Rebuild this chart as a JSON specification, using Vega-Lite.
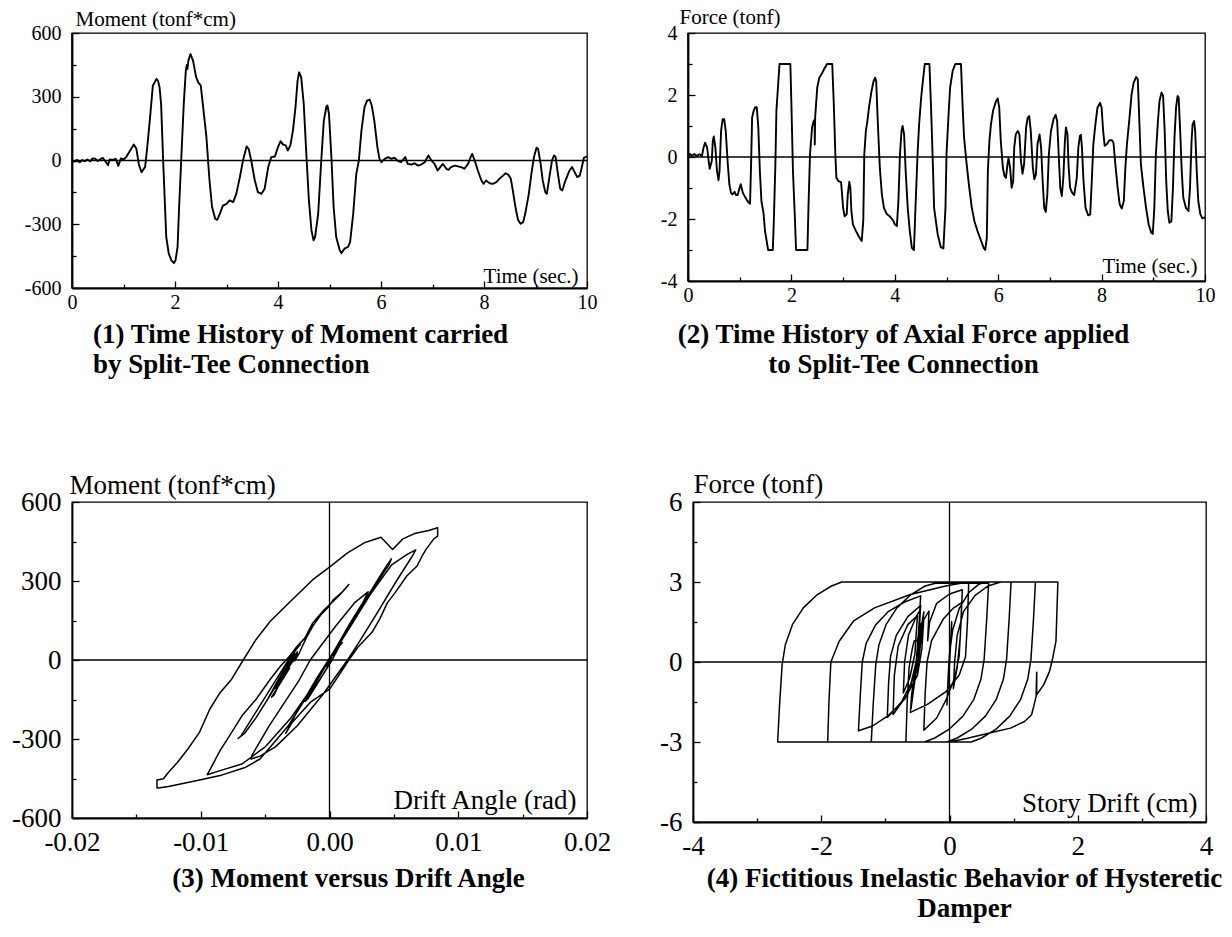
{
"$schema": "https://vega.github.io/schema/vega-lite/v6.json",
"autosize": {"type": "none"},
"padding": {"left": 72, "top": 33, "right": 1160, "bottom": 904},
"background": "white",
"config": {
  "font": "Liberation Serif",
  "view": {"stroke": "black", "strokeWidth": 1.3},
  "axis": {"grid": false, "domainColor": "black", "tickColor": "black", "labelColor": "black", "titleColor": "black", "labelFont": "Liberation Serif", "titleFont": "Liberation Serif", "titleFontWeight": "normal", "labelFlush": false, "labelOverlap": false, "domainWidth": 1.8, "tickWidth": 1.3, "labelAngle": 0},
  "title": {"font": "Liberation Serif", "fontWeight": "bold", "color": "black", "fontSize": 27},
  "locale": {"number": {"decimal": ".", "thousands": ",", "grouping": [3], "currency": ["$", ""], "minus": "-"}}
},
"datasets": {
"p1": [{"t":0,"m":0},{"t":0.05,"m":-5},{"t":0.1,"m":3},{"t":0.15,"m":-8},{"t":0.2,"m":2},{"t":0.25,"m":-3},{"t":0.3,"m":5},{"t":0.35,"m":-4},{"t":0.4,"m":10},{"t":0.45,"m":8},{"t":0.5,"m":-2},{"t":0.55,"m":6},{"t":0.6,"m":12},{"t":0.65,"m":-5},{"t":0.7,"m":-22},{"t":0.73,"m":5},{"t":0.78,"m":3},{"t":0.85,"m":8},{"t":0.9,"m":-25},{"t":0.95,"m":10},{"t":1.0,"m":5},{"t":1.05,"m":15},{"t":1.1,"m":35},{"t":1.2,"m":75},{"t":1.25,"m":55},{"t":1.3,"m":-20},{"t":1.35,"m":-55},{"t":1.42,"m":-30},{"t":1.46,"m":60},{"t":1.51,"m":188},{"t":1.57,"m":352},{"t":1.64,"m":384},{"t":1.67,"m":376},{"t":1.7,"m":345},{"t":1.73,"m":266},{"t":1.77,"m":0},{"t":1.83,"m":-360},{"t":1.88,"m":-439},{"t":1.93,"m":-470},{"t":1.98,"m":-483},{"t":2.01,"m":-470},{"t":2.05,"m":-407},{"t":2.08,"m":-219},{"t":2.12,"m":0},{"t":2.17,"m":266},{"t":2.21,"m":423},{"t":2.23,"m":450},{"t":2.24,"m":430},{"t":2.26,"m":470},{"t":2.3,"m":501},{"t":2.35,"m":470},{"t":2.41,"m":392},{"t":2.45,"m":368},{"t":2.5,"m":353},{"t":2.54,"m":266},{"t":2.61,"m":110},{"t":2.67,"m":-94},{"t":2.72,"m":-219},{"t":2.78,"m":-274},{"t":2.82,"m":-279},{"t":2.87,"m":-251},{"t":2.93,"m":-212},{"t":3.0,"m":-204},{"t":3.06,"m":-188},{"t":3.13,"m":-196},{"t":3.19,"m":-157},{"t":3.26,"m":-78},{"t":3.32,"m":0},{"t":3.39,"m":66},{"t":3.43,"m":55},{"t":3.48,"m":0},{"t":3.55,"m":-94},{"t":3.61,"m":-149},{"t":3.68,"m":-157},{"t":3.74,"m":-133},{"t":3.81,"m":-31},{"t":3.87,"m":16},{"t":3.94,"m":19},{"t":4.0,"m":63},{"t":4.05,"m":91},{"t":4.1,"m":75},{"t":4.15,"m":71},{"t":4.19,"m":47},{"t":4.24,"m":71},{"t":4.29,"m":141},{"t":4.34,"m":251},{"t":4.38,"m":376},{"t":4.41,"m":415},{"t":4.45,"m":392},{"t":4.5,"m":266},{"t":4.55,"m":31},{"t":4.6,"m":-188},{"t":4.65,"m":-329},{"t":4.69,"m":-376},{"t":4.72,"m":-360},{"t":4.78,"m":-251},{"t":4.84,"m":0},{"t":4.89,"m":188},{"t":4.94,"m":254},{"t":4.96,"m":259},{"t":4.99,"m":219},{"t":5.04,"m":0},{"t":5.08,"m":-219},{"t":5.13,"m":-360},{"t":5.2,"m":-423},{"t":5.23,"m":-436},{"t":5.29,"m":-415},{"t":5.36,"m":-407},{"t":5.4,"m":-384},{"t":5.46,"m":-251},{"t":5.52,"m":-63},{"t":5.57,"m":0},{"t":5.62,"m":141},{"t":5.68,"m":251},{"t":5.73,"m":282},{"t":5.78,"m":287},{"t":5.82,"m":259},{"t":5.87,"m":188},{"t":5.93,"m":63},{"t":5.97,"m":8},{"t":6.01,"m":-8},{"t":6.07,"m":8},{"t":6.14,"m":16},{"t":6.2,"m":8},{"t":6.26,"m":13},{"t":6.33,"m":-3},{"t":6.39,"m":-8},{"t":6.47,"m":16},{"t":6.52,"m":-16},{"t":6.59,"m":-19},{"t":6.65,"m":-13},{"t":6.72,"m":-24},{"t":6.78,"m":-19},{"t":6.85,"m":-8},{"t":6.92,"m":24},{"t":6.97,"m":3},{"t":7.04,"m":-16},{"t":7.1,"m":-47},{"t":7.15,"m":-31},{"t":7.2,"m":-16},{"t":7.27,"m":-39},{"t":7.31,"m":-44},{"t":7.36,"m":-31},{"t":7.43,"m":-24},{"t":7.5,"m":-28},{"t":7.56,"m":-31},{"t":7.62,"m":-39},{"t":7.69,"m":-16},{"t":7.74,"m":16},{"t":7.77,"m":31},{"t":7.82,"m":0},{"t":7.88,"m":-47},{"t":7.95,"m":-94},{"t":7.99,"m":-110},{"t":8.04,"m":-94},{"t":8.11,"m":-107},{"t":8.17,"m":-110},{"t":8.24,"m":-102},{"t":8.3,"m":-86},{"t":8.37,"m":-71},{"t":8.42,"m":-60},{"t":8.47,"m":-66},{"t":8.52,"m":-86},{"t":8.56,"m":-141},{"t":8.61,"m":-219},{"t":8.66,"m":-279},{"t":8.71,"m":-298},{"t":8.76,"m":-290},{"t":8.8,"m":-251},{"t":8.87,"m":-157},{"t":8.92,"m":-63},{"t":8.97,"m":16},{"t":9.02,"m":60},{"t":9.05,"m":55},{"t":9.1,"m":-16},{"t":9.14,"m":-94},{"t":9.19,"m":-149},{"t":9.22,"m":-157},{"t":9.27,"m":-78},{"t":9.32,"m":0},{"t":9.36,"m":24},{"t":9.39,"m":16},{"t":9.44,"m":-71},{"t":9.48,"m":-133},{"t":9.52,"m":-141},{"t":9.57,"m":-102},{"t":9.62,"m":-71},{"t":9.66,"m":-47},{"t":9.71,"m":-31},{"t":9.76,"m":-55},{"t":9.81,"m":-78},{"t":9.86,"m":-71},{"t":9.9,"m":-31},{"t":9.94,"m":13},{"t":10.0,"m":20}],
"p2": [{"t":0,"f":0},{"t":0.04,"f":0.1},{"t":0.08,"f":0.03},{"t":0.12,"f":0.1},{"t":0.17,"f":0.03},{"t":0.22,"f":0.09},{"t":0.27,"f":0.03},{"t":0.3,"f":0.3},{"t":0.33,"f":0.46},{"t":0.37,"f":0.3},{"t":0.4,"f":-0.13},{"t":0.42,"f":-0.38},{"t":0.46,"f":-0.13},{"t":0.48,"f":0.52},{"t":0.5,"f":0.66},{"t":0.53,"f":0.3},{"t":0.56,"f":-0.45},{"t":0.59,"f":-0.75},{"t":0.61,"f":-0.45},{"t":0.64,"f":0.84},{"t":0.67,"f":1.22},{"t":0.7,"f":1.22},{"t":0.73,"f":0.84},{"t":0.77,"f":-0.24},{"t":0.8,"f":-0.88},{"t":0.83,"f":-1.15},{"t":0.86,"f":-1.21},{"t":0.9,"f":-1.12},{"t":0.93,"f":-1.23},{"t":0.96,"f":-1.23},{"t":0.99,"f":-1.04},{"t":1.02,"f":-0.88},{"t":1.06,"f":-1.15},{"t":1.11,"f":-1.31},{"t":1.15,"f":-1.42},{"t":1.2,"f":-1.51},{"t":1.22,"f":-0.24},{"t":1.24,"f":1.27},{"t":1.27,"f":1.49},{"t":1.3,"f":1.61},{"t":1.33,"f":1.61},{"t":1.36,"f":0.95},{"t":1.39,"f":-0.45},{"t":1.42,"f":-1.42},{"t":1.46,"f":-1.8},{"t":1.49,"f":-2.39},{"t":1.55,"f":-3},{"t":1.64,"f":-3},{"t":1.66,"f":-2.07},{"t":1.69,"f":-0.24},{"t":1.71,"f":1.49},{"t":1.74,"f":2.24},{"t":1.77,"f":3},{"t":1.98,"f":3},{"t":2.0,"f":1.7},{"t":2.03,"f":-0.45},{"t":2.07,"f":-2.07},{"t":2.09,"f":-3},{"t":2.31,"f":-3},{"t":2.33,"f":-1.64},{"t":2.36,"f":0.09},{"t":2.4,"f":0.95},{"t":2.43,"f":1.16},{"t":2.45,"f":1.2},{"t":2.452,"f":0.4},{"t":2.46,"f":1.3},{"t":2.5,"f":2.24},{"t":2.54,"f":2.56},{"t":2.59,"f":2.69},{"t":2.63,"f":2.83},{"t":2.69,"f":3},{"t":2.79,"f":3},{"t":2.82,"f":1.7},{"t":2.85,"f":0.09},{"t":2.87,"f":-0.67},{"t":2.91,"f":-0.78},{"t":2.96,"f":-0.81},{"t":2.97,"f":-0.99},{"t":3.0,"f":-1.64},{"t":3.03,"f":-1.91},{"t":3.07,"f":-1.85},{"t":3.09,"f":-1.21},{"t":3.12,"f":-0.8},{"t":3.14,"f":-0.99},{"t":3.16,"f":-1.74},{"t":3.19,"f":-2.17},{"t":3.25,"f":-2.39},{"t":3.31,"f":-2.58},{"t":3.36,"f":-2.71},{"t":3.39,"f":-2.07},{"t":3.41,"f":0.09},{"t":3.44,"f":0.84},{"t":3.47,"f":1.16},{"t":3.5,"f":1.59},{"t":3.55,"f":2.13},{"t":3.59,"f":2.45},{"t":3.62,"f":2.56},{"t":3.64,"f":2.45},{"t":3.67,"f":1.16},{"t":3.71,"f":-0.34},{"t":3.75,"f":-1.21},{"t":3.79,"f":-1.64},{"t":3.84,"f":-1.83},{"t":3.9,"f":-1.91},{"t":3.97,"f":-2.05},{"t":4.0,"f":-2.17},{"t":4.04,"f":-2.23},{"t":4.07,"f":-1.42},{"t":4.1,"f":0.09},{"t":4.13,"f":0.84},{"t":4.15,"f":1.0},{"t":4.18,"f":0.73},{"t":4.21,"f":-0.45},{"t":4.25,"f":-1.64},{"t":4.29,"f":-2.39},{"t":4.33,"f":-2.93},{"t":4.37,"f":-3},{"t":4.4,"f":-1.64},{"t":4.44,"f":0.09},{"t":4.47,"f":1.05},{"t":4.51,"f":1.92},{"t":4.55,"f":2.56},{"t":4.58,"f":3},{"t":4.67,"f":3},{"t":4.71,"f":1.16},{"t":4.74,"f":-0.45},{"t":4.76,"f":-1.64},{"t":4.83,"f":-2.5},{"t":4.89,"f":-2.91},{"t":4.94,"f":-2.95},{"t":4.98,"f":-1.64},{"t":5.0,"f":0.09},{"t":5.04,"f":1.38},{"t":5.07,"f":2.24},{"t":5.12,"f":2.78},{"t":5.17,"f":3},{"t":5.28,"f":3},{"t":5.31,"f":1.7},{"t":5.34,"f":0.62},{"t":5.39,"f":-0.24},{"t":5.44,"f":-0.99},{"t":5.49,"f":-1.64},{"t":5.54,"f":-2.07},{"t":5.6,"f":-2.39},{"t":5.67,"f":-2.71},{"t":5.72,"f":-2.93},{"t":5.75,"f":-3},{"t":5.78,"f":-2.6},{"t":5.8,"f":-0.45},{"t":5.83,"f":0.52},{"t":5.86,"f":1.05},{"t":5.9,"f":1.49},{"t":5.96,"f":1.81},{"t":5.99,"f":1.89},{"t":6.02,"f":1.59},{"t":6.05,"f":0.52},{"t":6.09,"f":-0.34},{"t":6.12,"f":-0.61},{"t":6.15,"f":-0.67},{"t":6.18,"f":-0.24},{"t":6.2,"f":-0.04},{"t":6.23,"f":-0.34},{"t":6.26,"f":-0.99},{"t":6.29,"f":-0.78},{"t":6.31,"f":0.3},{"t":6.34,"f":0.73},{"t":6.38,"f":0.84},{"t":6.41,"f":0.73},{"t":6.44,"f":-0.13},{"t":6.47,"f":-0.54},{"t":6.5,"f":-0.24},{"t":6.54,"f":0.95},{"t":6.57,"f":1.27},{"t":6.6,"f":1.32},{"t":6.63,"f":0.84},{"t":6.67,"f":-0.34},{"t":6.7,"f":-0.72},{"t":6.73,"f":-0.56},{"t":6.76,"f":0.41},{"t":6.8,"f":0.73},{"t":6.83,"f":0.3},{"t":6.86,"f":-0.78},{"t":6.89,"f":-1.64},{"t":6.92,"f":-1.77},{"t":6.95,"f":-1.21},{"t":6.98,"f":0.09},{"t":7.02,"f":0.84},{"t":7.07,"f":1.22},{"t":7.11,"f":1.36},{"t":7.14,"f":1.16},{"t":7.17,"f":0.09},{"t":7.2,"f":-0.99},{"t":7.23,"f":-1.26},{"t":7.26,"f":-0.67},{"t":7.29,"f":0.52},{"t":7.31,"f":0.95},{"t":7.34,"f":0.73},{"t":7.36,"f":-0.24},{"t":7.39,"f":-0.99},{"t":7.43,"f":-1.15},{"t":7.47,"f":-1.23},{"t":7.52,"f":-0.67},{"t":7.55,"f":0.3},{"t":7.58,"f":0.68},{"t":7.6,"f":0.71},{"t":7.62,"f":0.3},{"t":7.65,"f":-0.78},{"t":7.69,"f":-1.64},{"t":7.74,"f":-1.88},{"t":7.78,"f":-1.85},{"t":7.81,"f":-0.78},{"t":7.84,"f":0.41},{"t":7.88,"f":1.05},{"t":7.92,"f":1.59},{"t":7.97,"f":1.75},{"t":8.0,"f":1.59},{"t":8.03,"f":0.84},{"t":8.06,"f":0.36},{"t":8.1,"f":0.41},{"t":8.15,"f":0.54},{"t":8.2,"f":0.54},{"t":8.23,"f":0.46},{"t":8.26,"f":-0.13},{"t":8.31,"f":-0.99},{"t":8.35,"f":-1.53},{"t":8.39,"f":-1.66},{"t":8.43,"f":-1.42},{"t":8.46,"f":-0.34},{"t":8.49,"f":0.41},{"t":8.54,"f":1.27},{"t":8.58,"f":2.02},{"t":8.62,"f":2.4},{"t":8.67,"f":2.58},{"t":8.7,"f":2.51},{"t":8.73,"f":1.16},{"t":8.76,"f":-0.24},{"t":8.81,"f":-0.99},{"t":8.86,"f":-1.64},{"t":8.91,"f":-2.17},{"t":8.96,"f":-2.44},{"t":8.99,"f":-2.48},{"t":9.02,"f":-1.64},{"t":9.05,"f":0.09},{"t":9.09,"f":1.16},{"t":9.12,"f":1.81},{"t":9.16,"f":2.08},{"t":9.19,"f":1.97},{"t":9.22,"f":0.84},{"t":9.25,"f":-0.78},{"t":9.28,"f":-1.74},{"t":9.31,"f":-2.12},{"t":9.35,"f":-2.07},{"t":9.38,"f":-0.99},{"t":9.41,"f":0.62},{"t":9.44,"f":1.59},{"t":9.47,"f":1.97},{"t":9.49,"f":1.92},{"t":9.52,"f":0.84},{"t":9.55,"f":-0.45},{"t":9.58,"f":-1.31},{"t":9.63,"f":-1.64},{"t":9.68,"f":-1.74},{"t":9.71,"f":-0.99},{"t":9.74,"f":0.52},{"t":9.76,"f":1.05},{"t":9.79,"f":1.16},{"t":9.81,"f":0.84},{"t":9.84,"f":-0.45},{"t":9.87,"f":-1.42},{"t":9.91,"f":-1.85},{"t":9.95,"f":-1.98},{"t":10.0,"f":-1.95}],
"p3": [{"i":1,"a":0,"m":0},{"i":2,"a":0.0001,"m":8},{"i":3,"a":-0.0001,"m":-6},{"i":4,"a":0.0001,"m":6},{"i":5,"a":-0.0002,"m":-22},{"i":6,"a":0.0001,"m":8},{"i":7,"a":-0.0002,"m":-25},{"i":8,"a":0.0002,"m":15},{"i":9,"a":0.0009,"m":75},{"i":10,"a":0.0006,"m":55},{"i":11,"a":-0.0003,"m":-20},{"i":12,"a":-0.0007,"m":-55},{"i":13,"a":-0.0004,"m":-30},{"i":14,"a":0,"m":0},{"i":15,"a":0.0016,"m":130},{"i":16,"a":0.003,"m":245},{"i":17,"a":0.0042,"m":340},{"i":18,"a":0.0048,"m":384},{"i":19,"a":0.0046,"m":360},{"i":20,"a":0.0035,"m":280},{"i":21,"a":0.002,"m":160},{"i":22,"a":0.0005,"m":45},{"i":23,"a":-0.001,"m":-70},{"i":24,"a":-0.0022,"m":-170},{"i":25,"a":-0.0032,"m":-250},{"i":26,"a":-0.0043,"m":-313},{"i":27,"a":-0.0054,"m":-376},{"i":28,"a":-0.0065,"m":-407},{"i":29,"a":-0.0085,"m":-439},{"i":30,"a":-0.01,"m":-455},{"i":31,"a":-0.0113,"m":-468},{"i":32,"a":-0.0125,"m":-480},{"i":33,"a":-0.0133,"m":-486},{"i":34,"a":-0.0134,"m":-486},{"i":35,"a":-0.0134,"m":-456},{"i":36,"a":-0.0129,"m":-451},{"i":37,"a":-0.0125,"m":-426},{"i":38,"a":-0.0118,"m":-388},{"i":39,"a":-0.011,"m":-338},{"i":40,"a":-0.0101,"m":-275},{"i":41,"a":-0.0093,"m":-187},{"i":42,"a":-0.0085,"m":-124},{"i":43,"a":-0.0076,"m":-73},{"i":44,"a":-0.0067,"m":0},{"i":45,"a":-0.0057,"m":78},{"i":46,"a":-0.0046,"m":147},{"i":47,"a":-0.0029,"m":229},{"i":48,"a":-0.0013,"m":305},{"i":49,"a":0,"m":353},{"i":50,"a":0.0014,"m":407},{"i":51,"a":0.0027,"m":445},{"i":52,"a":0.004,"m":466},{"i":53,"a":0.0049,"m":420},{"i":54,"a":0.0057,"m":460},{"i":55,"a":0.0066,"m":480},{"i":56,"a":0.0077,"m":492},{"i":57,"a":0.0084,"m":502},{"i":58,"a":0.0084,"m":470},{"i":59,"a":0.0081,"m":460},{"i":60,"a":0.0078,"m":440},{"i":61,"a":0.0075,"m":420},{"i":62,"a":0.0072,"m":395},{"i":63,"a":0.0068,"m":357},{"i":64,"a":0.006,"m":319},{"i":65,"a":0.0051,"m":256},{"i":66,"a":0.0045,"m":218},{"i":67,"a":0.0039,"m":155},{"i":68,"a":0.0033,"m":105},{"i":69,"a":0.0022,"m":48},{"i":70,"a":0.0015,"m":0},{"i":71,"a":0.0007,"m":-60},{"i":72,"a":0,"m":-111},{"i":73,"a":-0.0015,"m":-161},{"i":74,"a":-0.0029,"m":-237},{"i":75,"a":-0.0034,"m":-279},{"i":76,"a":-0.0031,"m":-251},{"i":77,"a":-0.0027,"m":-212},{"i":78,"a":-0.0026,"m":-204},{"i":79,"a":-0.0024,"m":-188},{"i":80,"a":-0.0025,"m":-196},{"i":81,"a":-0.002,"m":-157},{"i":82,"a":-0.001,"m":-78},{"i":83,"a":-0.0001,"m":0},{"i":84,"a":0.001,"m":66},{"i":85,"a":0.0008,"m":55},{"i":86,"a":0.0002,"m":0},{"i":87,"a":-0.001,"m":-94},{"i":88,"a":-0.0017,"m":-149},{"i":89,"a":-0.0019,"m":-157},{"i":90,"a":-0.0016,"m":-133},{"i":91,"a":-0.0004,"m":-31},{"i":92,"a":0.0002,"m":16},{"i":93,"a":0.0003,"m":19},{"i":94,"a":0.0008,"m":63},{"i":95,"a":0.0011,"m":91},{"i":96,"a":0.0009,"m":75},{"i":97,"a":0.0009,"m":71},{"i":98,"a":0.0006,"m":47},{"i":99,"a":0.0009,"m":71},{"i":100,"a":0.0018,"m":141},{"i":101,"a":0.0032,"m":251},{"i":102,"a":0.0048,"m":360},{"i":103,"a":0.006,"m":400},{"i":104,"a":0.0067,"m":418},{"i":105,"a":0.0064,"m":392},{"i":106,"a":0.0052,"m":300},{"i":107,"a":0.0036,"m":170},{"i":108,"a":0.0022,"m":60},{"i":109,"a":0.0014,"m":0},{"i":110,"a":-0.0005,"m":-130},{"i":111,"a":-0.0025,"m":-250},{"i":112,"a":-0.0042,"m":-330},{"i":113,"a":-0.0054,"m":-365},{"i":114,"a":-0.0061,"m":-376},{"i":115,"a":-0.006,"m":-360},{"i":116,"a":-0.0047,"m":-251},{"i":117,"a":-0.0024,"m":-80},{"i":118,"a":-0.0015,"m":0},{"i":119,"a":0.0005,"m":130},{"i":120,"a":0.002,"m":220},{"i":121,"a":0.003,"m":259},{"i":122,"a":0.0026,"m":219},{"i":123,"a":0.0016,"m":140},{"i":124,"a":0.0002,"m":20},{"i":125,"a":-0.001,"m":-80},{"i":126,"a":-0.003,"m":-220},{"i":127,"a":-0.005,"m":-330},{"i":128,"a":-0.0068,"m":-395},{"i":129,"a":-0.0085,"m":-420},{"i":130,"a":-0.0095,"m":-436},{"i":131,"a":-0.0093,"m":-418},{"i":132,"a":-0.0085,"m":-344},{"i":133,"a":-0.0076,"m":-275},{"i":134,"a":-0.0068,"m":-212},{"i":135,"a":-0.0057,"m":-149},{"i":136,"a":-0.0046,"m":-73},{"i":137,"a":-0.0038,"m":-23},{"i":138,"a":-0.0032,"m":9},{"i":139,"a":-0.0026,"m":47},{"i":140,"a":-0.0019,"m":84},{"i":141,"a":-0.0013,"m":141},{"i":142,"a":-0.0004,"m":192},{"i":143,"a":0,"m":210},{"i":144,"a":0.0007,"m":242},{"i":145,"a":0.0013,"m":274},{"i":146,"a":0.0015,"m":287},{"i":147,"a":0.001,"m":259},{"i":148,"a":0.0003,"m":229},{"i":149,"a":-0.0001,"m":200},{"i":150,"a":-0.0007,"m":170},{"i":151,"a":-0.0013,"m":129},{"i":152,"a":-0.0018,"m":84},{"i":153,"a":-0.0021,"m":53},{"i":154,"a":-0.0024,"m":21},{"i":155,"a":-0.0027,"m":-3},{"i":156,"a":-0.0026,"m":8},{"i":157,"a":-0.0026,"m":16},{"i":158,"a":-0.0027,"m":8},{"i":159,"a":-0.0026,"m":13},{"i":160,"a":-0.0028,"m":-3},{"i":161,"a":-0.0029,"m":-8},{"i":162,"a":-0.0026,"m":16},{"i":163,"a":-0.003,"m":-16},{"i":164,"a":-0.0031,"m":-19},{"i":165,"a":-0.003,"m":-13},{"i":166,"a":-0.0032,"m":-24},{"i":167,"a":-0.0031,"m":-19},{"i":168,"a":-0.0029,"m":-8},{"i":169,"a":-0.0025,"m":24},{"i":170,"a":-0.0028,"m":3},{"i":171,"a":-0.0031,"m":-16},{"i":172,"a":-0.0034,"m":-47},{"i":173,"a":-0.0032,"m":-31},{"i":174,"a":-0.003,"m":-16},{"i":175,"a":-0.0033,"m":-39},{"i":176,"a":-0.0034,"m":-44},{"i":177,"a":-0.0032,"m":-31},{"i":178,"a":-0.0031,"m":-24},{"i":179,"a":-0.0032,"m":-28},{"i":180,"a":-0.0033,"m":-31},{"i":181,"a":-0.0034,"m":-39},{"i":182,"a":-0.0031,"m":-16},{"i":183,"a":-0.0027,"m":16},{"i":184,"a":-0.0025,"m":31},{"i":185,"a":-0.0029,"m":0},{"i":186,"a":-0.0035,"m":-47},{"i":187,"a":-0.0041,"m":-94},{"i":188,"a":-0.0043,"m":-110},{"i":189,"a":-0.0041,"m":-94},{"i":190,"a":-0.0042,"m":-107},{"i":191,"a":-0.0043,"m":-110},{"i":192,"a":-0.0041,"m":-102},{"i":193,"a":-0.0039,"m":-86},{"i":194,"a":-0.0037,"m":-71},{"i":195,"a":-0.0036,"m":-60},{"i":196,"a":-0.0037,"m":-66},{"i":197,"a":-0.004,"m":-86},{"i":198,"a":-0.0047,"m":-141},{"i":199,"a":-0.0057,"m":-219},{"i":200,"a":-0.0066,"m":-279},{"i":201,"a":-0.0071,"m":-298},{"i":202,"a":-0.0069,"m":-290},{"i":203,"a":-0.0064,"m":-251},{"i":204,"a":-0.0052,"m":-157},{"i":205,"a":-0.004,"m":-63},{"i":206,"a":-0.003,"m":16},{"i":207,"a":-0.00225,"m":60},{"i":208,"a":-0.0024,"m":55},{"i":209,"a":-0.0033,"m":-16},{"i":210,"a":-0.0042,"m":-94},{"i":211,"a":-0.0048,"m":-149},{"i":212,"a":-0.0049,"m":-157},{"i":213,"a":-0.004,"m":-78},{"i":214,"a":-0.003,"m":0},{"i":215,"a":-0.0027,"m":24},{"i":216,"a":-0.0028,"m":16},{"i":217,"a":-0.0037,"m":-71},{"i":218,"a":-0.0043,"m":-133},{"i":219,"a":-0.0045,"m":-141},{"i":220,"a":-0.004,"m":-102},{"i":221,"a":-0.0036,"m":-71},{"i":222,"a":-0.0033,"m":-47},{"i":223,"a":-0.0031,"m":-31},{"i":224,"a":-0.0034,"m":-55},{"i":225,"a":-0.0037,"m":-78},{"i":226,"a":-0.0036,"m":-71},{"i":227,"a":-0.0032,"m":-31},{"i":228,"a":-0.0027,"m":13},{"i":229,"a":-0.0026,"m":20}],
"p4": [{"i":1,"d":0,"f":0},{"i":2,"d":-0.01,"f":-0.46},{"i":3,"d":0.01,"f":0.38},{"i":4,"d":-0.015,"f":-0.66},{"i":5,"d":0.02,"f":0.75},{"i":6,"d":-0.03,"f":-1.22},{"i":7,"d":0.03,"f":1.2},{"i":8,"d":0.035,"f":1.51},{"i":9,"d":-0.04,"f":-1.61},{"i":10,"d":-0.02,"f":-0.5},{"i":11,"d":0,"f":0.3},{"i":12,"d":0.05,"f":1.2},{"i":13,"d":0.15,"f":2.0},{"i":14,"d":0.3,"f":2.6},{"i":15,"d":0.45,"f":2.9},{"i":16,"d":0.55,"f":3},{"i":17,"d":0.96,"f":3},{"i":18,"d":0.93,"f":1.6},{"i":19,"d":0.89,"f":0.1},{"i":20,"d":0.84,"f":-0.65},{"i":21,"d":0.73,"f":-1.4},{"i":22,"d":0.56,"f":-2.03},{"i":23,"d":0.34,"f":-2.53},{"i":24,"d":0.12,"f":-2.85},{"i":25,"d":-0.04,"f":-3},{"i":26,"d":-2.68,"f":-3},{"i":27,"d":-2.65,"f":-1.6},{"i":28,"d":-2.61,"f":-0.1},{"i":29,"d":-2.56,"f":0.65},{"i":30,"d":-2.45,"f":1.4},{"i":31,"d":-2.28,"f":2.03},{"i":32,"d":-2.06,"f":2.53},{"i":33,"d":-1.84,"f":2.85},{"i":34,"d":-1.68,"f":3},{"i":35,"d":1.69,"f":3},{"i":36,"d":1.67,"f":1.5},{"i":37,"d":1.66,"f":0.78},{"i":38,"d":1.61,"f":0.15},{"i":39,"d":1.56,"f":-0.35},{"i":40,"d":1.47,"f":-0.85},{"i":41,"d":1.36,"f":-1.23},{"i":42,"d":1.36,"f":-0.38},{"i":43,"d":1.35,"f":-1.3},{"i":44,"d":1.32,"f":-1.6},{"i":45,"d":1.28,"f":-1.98},{"i":46,"d":1.17,"f":-2.23},{"i":47,"d":0.95,"f":-2.48},{"i":48,"d":0.61,"f":-2.67},{"i":49,"d":0.28,"f":-2.86},{"i":50,"d":0,"f":-3},{"i":51,"d":-0.68,"f":-3},{"i":52,"d":-0.66,"f":-1.5},{"i":53,"d":-0.63,"f":-0.2},{"i":54,"d":-0.58,"f":0.5},{"i":55,"d":-0.55,"f":0.8},{"i":56,"d":-0.5,"f":0.81},{"i":57,"d":-0.45,"f":1.4},{"i":58,"d":-0.32,"f":1.91},{"i":59,"d":-0.34,"f":0.8},{"i":60,"d":-0.31,"f":1.5},{"i":61,"d":-0.2,"f":2.2},{"i":62,"d":0,"f":2.55},{"i":63,"d":0.2,"f":2.71},{"i":64,"d":0.18,"f":1.5},{"i":65,"d":0.15,"f":0.2},{"i":66,"d":0.08,"f":-0.6},{"i":67,"d":-0.05,"f":-1.4},{"i":68,"d":-0.2,"f":-2.1},{"i":69,"d":-0.4,"f":-2.56},{"i":70,"d":-0.38,"f":-1.2},{"i":71,"d":-0.35,"f":0},{"i":72,"d":-0.28,"f":0.8},{"i":73,"d":-0.1,"f":1.6},{"i":74,"d":0.05,"f":2},{"i":75,"d":0.19,"f":2.23},{"i":76,"d":0.17,"f":1},{"i":77,"d":0.12,"f":-0.2},{"i":78,"d":0.06,"f":-1},{"i":79,"d":0.08,"f":0},{"i":80,"d":0.12,"f":1},{"i":81,"d":0.22,"f":1.9},{"i":82,"d":0.4,"f":2.5},{"i":83,"d":0.6,"f":2.85},{"i":84,"d":0.8,"f":3},{"i":85,"d":1.34,"f":3},{"i":86,"d":1.31,"f":1.6},{"i":87,"d":1.27,"f":0.1},{"i":88,"d":1.22,"f":-0.65},{"i":89,"d":1.11,"f":-1.4},{"i":90,"d":0.94,"f":-2.03},{"i":91,"d":0.72,"f":-2.53},{"i":92,"d":0.5,"f":-2.85},{"i":93,"d":0.34,"f":-3},{"i":94,"d":-1.22,"f":-3},{"i":95,"d":-1.19,"f":-1.6},{"i":96,"d":-1.15,"f":-0.1},{"i":97,"d":-1.1,"f":0.65},{"i":98,"d":-0.99,"f":1.4},{"i":99,"d":-0.82,"f":2.03},{"i":100,"d":-0.6,"f":2.53},{"i":101,"d":-0.38,"f":2.85},{"i":102,"d":-0.22,"f":2.95},{"i":103,"d":0.61,"f":2.95},{"i":104,"d":0.58,"f":1.6},{"i":105,"d":0.54,"f":0.1},{"i":106,"d":0.49,"f":-0.65},{"i":107,"d":0.38,"f":-1.4},{"i":108,"d":0.21,"f":-2.03},{"i":109,"d":-0.01,"f":-2.53},{"i":110,"d":-0.23,"f":-2.85},{"i":111,"d":-0.39,"f":-3},{"i":112,"d":-1.9,"f":-3},{"i":113,"d":-1.88,"f":-1.5},{"i":114,"d":-1.85,"f":0},{"i":115,"d":-1.72,"f":0.78},{"i":116,"d":-1.5,"f":1.53},{"i":117,"d":-1.17,"f":2.03},{"i":118,"d":-0.61,"f":2.53},{"i":119,"d":-0.06,"f":2.85},{"i":120,"d":0.28,"f":3},{"i":121,"d":0.3,"f":3},{"i":122,"d":0.28,"f":1.5},{"i":123,"d":0.25,"f":0.2},{"i":124,"d":0.15,"f":-0.5},{"i":125,"d":-0.05,"f":-1.1},{"i":126,"d":-0.35,"f":-1.6},{"i":127,"d":-0.61,"f":-1.89},{"i":128,"d":-0.59,"f":-1.2},{"i":129,"d":-0.5,"f":0.2},{"i":130,"d":-0.47,"f":0.67},{"i":131,"d":-0.5,"f":0.3},{"i":132,"d":-0.52,"f":0},{"i":133,"d":-0.49,"f":0.5},{"i":134,"d":-0.45,"f":0.99},{"i":135,"d":-0.49,"f":0.3},{"i":136,"d":-0.55,"f":-0.84},{"i":137,"d":-0.51,"f":-0.1},{"i":138,"d":-0.48,"f":0.54},{"i":139,"d":-0.52,"f":-0.2},{"i":140,"d":-0.58,"f":-1.32},{"i":141,"d":-0.53,"f":-0.3},{"i":142,"d":-0.47,"f":0.72},{"i":143,"d":-0.51,"f":0},{"i":144,"d":-0.55,"f":-0.73},{"i":145,"d":-0.5,"f":0.3},{"i":146,"d":-0.41,"f":1.77},{"i":147,"d":-0.46,"f":0.8},{"i":148,"d":-0.58,"f":-1.36},{"i":149,"d":-0.52,"f":-0.3},{"i":150,"d":-0.44,"f":1.26},{"i":151,"d":-0.49,"f":0.3},{"i":152,"d":-0.56,"f":-0.95},{"i":153,"d":-0.5,"f":0.1},{"i":154,"d":-0.44,"f":1.23},{"i":155,"d":-0.49,"f":0.3},{"i":156,"d":-0.55,"f":-0.71},{"i":157,"d":-0.49,"f":0.3},{"i":158,"d":-0.4,"f":1.88},{"i":159,"d":-0.45,"f":0.9},{"i":160,"d":-0.6,"f":-1.75},{"i":161,"d":-0.56,"f":-0.9},{"i":162,"d":-0.53,"f":-0.45},{"i":163,"d":-0.52,"f":-0.4},{"i":164,"d":-0.5,"f":-0.3},{"i":165,"d":-0.45,"f":0.7},{"i":166,"d":-0.4,"f":1.66},{"i":167,"d":-0.43,"f":0.5},{"i":168,"d":-0.5,"f":-0.5},{"i":169,"d":-0.7,"f":-1.4},{"i":170,"d":-0.95,"f":-2},{"i":171,"d":-1.2,"f":-2.4},{"i":172,"d":-1.42,"f":-2.58},{"i":173,"d":-1.39,"f":-1.2},{"i":174,"d":-1.36,"f":0},{"i":175,"d":-1.3,"f":0.7},{"i":176,"d":-1.15,"f":1.4},{"i":177,"d":-0.95,"f":1.9},{"i":178,"d":-0.7,"f":2.25},{"i":179,"d":-0.45,"f":2.48},{"i":180,"d":-0.48,"f":1.2},{"i":181,"d":-0.52,"f":0},{"i":182,"d":-0.6,"f":-0.8},{"i":183,"d":-0.75,"f":-1.5},{"i":184,"d":-0.97,"f":-2.08},{"i":185,"d":-0.95,"f":-0.8},{"i":186,"d":-0.92,"f":0.2},{"i":187,"d":-0.83,"f":1},{"i":188,"d":-0.65,"f":1.7},{"i":189,"d":-0.45,"f":2.12},{"i":190,"d":-0.48,"f":0.8},{"i":191,"d":-0.53,"f":-0.3},{"i":192,"d":-0.65,"f":-1.2},{"i":193,"d":-0.88,"f":-1.97},{"i":194,"d":-0.86,"f":-0.5},{"i":195,"d":-0.8,"f":0.6},{"i":196,"d":-0.65,"f":1.4},{"i":197,"d":-0.5,"f":1.74},{"i":198,"d":-0.54,"f":0.3},{"i":199,"d":-0.62,"f":-0.6},{"i":200,"d":-0.72,"f":-1.16},{"i":201,"d":-0.7,"f":0},{"i":202,"d":-0.64,"f":1},{"i":203,"d":-0.52,"f":1.7},{"i":204,"d":-0.45,"f":1.98}]
},
"spacing": 469,
"bounds": "flush",
"vconcat": [
{"spacing": 101, "bounds": "flush", "hconcat": [
  {"width": 515, "height": 255,
   "title": {"text": ["(1) Time History of Moment carried", "\u00a0\u00a0\u00a0by Split-Tee Connection"], "orient": "bottom", "anchor": "start", "align": "left", "frame": "group", "dx": 21, "offset": 10, "lineHeight": 30},
   "resolve": {"axis": {"x": "independent", "y": "independent"}},
   "layer": [
    {"data": {"name": "p1"}, "mark": {"type": "line", "color": "black", "strokeWidth": 1.9, "strokeJoin": "round"},
     "encoding": {
      "x": {"field": "t", "type": "quantitative", "scale": {"domain": [0, 10], "nice": false, "zero": false},
            "axis": {"orient": "bottom", "values": [0,2,4,6,8,10], "tickSize": -7, "labelPadding": 11, "labelFontSize": 20, "title": "Time (sec.)", "titleFontSize": 21, "titleX": 506, "titleY": -6, "titleAlign": "right", "titleBaseline": "alphabetic"}},
      "y": {"field": "m", "type": "quantitative", "scale": {"domain": [-600, 600], "nice": false},
            "axis": {"orient": "left", "values": [-600,-300,0,300,600], "tickSize": -7, "labelPadding": 18, "labelFontSize": 20, "labelExpr": "replace(datum.label, '\u2212', '-')", "title": "Moment (tonf*cm)", "titleFontSize": 21, "titleAngle": 0, "titleX": 3, "titleY": -8, "titleAlign": "left", "titleBaseline": "alphabetic"}}
     }},
    {"data": {"values": [{}]}, "mark": {"type": "rule", "color": "black", "strokeWidth": 1.4},
     "encoding": {"y": {"datum": 0, "type": "quantitative", "axis": {"orient": "left", "values": [-450,-150,150,450], "tickSize": -4, "labels": false, "domain": false, "title": null}}}},
    {"data": {"values": [{}]}, "mark": {"type": "rule", "color": "black", "strokeWidth": 1.4},
     "encoding": {"x": {"datum": 0, "type": "quantitative", "axis": {"orient": "bottom", "values": [1,3,5,7,9], "tickSize": -4, "labels": false, "domain": false, "title": null}}}}
   ]},
  {"width": 517, "height": 248,
   "title": {"text": ["(2) Time History of Axial Force applied", "to Split-Tee Connection"], "orient": "bottom", "anchor": "middle", "align": "center", "frame": "group", "dx": -43, "offset": 17, "lineHeight": 30},
   "resolve": {"axis": {"x": "independent", "y": "independent"}},
   "layer": [
    {"data": {"name": "p2"}, "mark": {"type": "line", "color": "black", "strokeWidth": 1.9, "strokeJoin": "round"},
     "encoding": {
      "x": {"field": "t", "type": "quantitative", "scale": {"domain": [0, 10], "nice": false, "zero": false},
            "axis": {"orient": "bottom", "values": [0,2,4,6,8,10], "tickSize": -7, "labelPadding": 11, "labelFontSize": 20, "title": "Time (sec.)", "titleFontSize": 21, "titleX": 509, "titleY": -9, "titleAlign": "right", "titleBaseline": "alphabetic"}},
      "y": {"field": "f", "type": "quantitative", "scale": {"domain": [-4, 4], "nice": false},
            "axis": {"orient": "left", "values": [-4,-2,0,2,4], "tickSize": -7, "labelPadding": 18, "labelFontSize": 20, "labelExpr": "replace(datum.label, '\u2212', '-')", "title": "Force (tonf)", "titleFontSize": 21, "titleAngle": 0, "titleX": -9, "titleY": -10, "titleAlign": "left", "titleBaseline": "alphabetic"}}
     }},
    {"data": {"values": [{}]}, "mark": {"type": "rule", "color": "black", "strokeWidth": 1.4},
     "encoding": {"y": {"datum": 0, "type": "quantitative", "axis": {"orient": "left", "values": [-3,-1,1,3], "tickSize": -4, "labels": false, "domain": false, "title": null}}}},
    {"data": {"values": [{}]}, "mark": {"type": "rule", "color": "black", "strokeWidth": 1.4},
     "encoding": {"x": {"datum": 0, "type": "quantitative", "axis": {"orient": "bottom", "values": [1,3,5,7,9], "tickSize": -4, "labels": false, "domain": false, "title": null}}}}
   ]}
]},
{"spacing": 106, "bounds": "flush", "hconcat": [
  {"width": 515, "height": 316,
   "title": {"text": "(3) Moment versus Drift Angle", "orient": "bottom", "anchor": "middle", "align": "center", "frame": "group", "dx": 19, "offset": 11},
   "resolve": {"axis": {"x": "independent", "y": "independent"}},
   "layer": [
    {"data": {"name": "p3"}, "mark": {"type": "line", "color": "black", "strokeWidth": 1.5, "strokeJoin": "round"},
     "encoding": {
      "x": {"field": "a", "type": "quantitative", "scale": {"domain": [-0.02, 0.02], "nice": false, "zero": false},
            "axis": {"orient": "bottom", "values": [-0.02,-0.01,0,0.01,0.02], "format": ".2f", "labelExpr": "replace(datum.label, '\u2212', '-')", "tickSize": -7, "labelPadding": 18, "labelFontSize": 27, "title": "Drift Angle (rad)", "titleFontSize": 27, "titleX": 504, "titleY": -10, "titleAlign": "right", "titleBaseline": "alphabetic"}},
      "y": {"field": "m", "type": "quantitative", "scale": {"domain": [-600, 600], "nice": false},
            "axis": {"orient": "left", "values": [-600,-300,0,300,600], "tickSize": -7, "labelPadding": 18, "labelFontSize": 27, "labelExpr": "replace(datum.label, '\u2212', '-')", "title": "Moment (tonf*cm)", "titleFontSize": 27, "titleAngle": 0, "titleX": -3, "titleY": -9, "titleAlign": "left", "titleBaseline": "alphabetic"}},
      "order": {"field": "i", "type": "quantitative"}
     }},
    {"data": {"values": [{}]}, "mark": {"type": "rule", "color": "black", "strokeWidth": 1.3},
     "encoding": {"y": {"datum": 0, "type": "quantitative", "axis": {"orient": "left", "values": [-450,-150,150,450], "tickSize": -4, "labels": false, "domain": false, "title": null}}}},
    {"data": {"values": [{}]}, "mark": {"type": "rule", "color": "black", "strokeWidth": 1.3},
     "encoding": {"x": {"datum": 0, "type": "quantitative", "axis": {"orient": "bottom", "values": [-0.015,-0.005,0.005,0.015], "tickSize": -4, "labels": false, "domain": false, "title": null}}}}
   ]},
  {"width": 513, "height": 320,
   "title": {"text": ["(4) Fictitious Inelastic Behavior of Hysteretic", "Damper"], "orient": "bottom", "anchor": "middle", "align": "center", "frame": "group", "dx": 15, "offset": 7, "lineHeight": 30},
   "resolve": {"axis": {"x": "independent", "y": "independent"}},
   "layer": [
    {"data": {"name": "p4"}, "mark": {"type": "line", "color": "black", "strokeWidth": 1.5, "strokeJoin": "round"},
     "encoding": {
      "x": {"field": "d", "type": "quantitative", "scale": {"domain": [-4, 4], "nice": false, "zero": false},
            "axis": {"orient": "bottom", "values": [-4,-2,0,2,4], "labelExpr": "replace(datum.label, '\u2212', '-')", "tickSize": -7, "labelPadding": 18, "labelFontSize": 27, "title": "Story Drift (cm)", "titleFontSize": 27, "titleX": 504, "titleY": -11, "titleAlign": "right", "titleBaseline": "alphabetic"}},
      "y": {"field": "f", "type": "quantitative", "scale": {"domain": [-6, 6], "nice": false},
            "axis": {"orient": "left", "values": [-6,-3,0,3,6], "tickSize": -7, "labelPadding": 18, "labelFontSize": 27, "labelExpr": "replace(datum.label, '\u2212', '-')", "title": "Force (tonf)", "titleFontSize": 27, "titleAngle": 0, "titleX": 0, "titleY": -10, "titleAlign": "left", "titleBaseline": "alphabetic"}},
      "order": {"field": "i", "type": "quantitative"}
     }},
    {"data": {"values": [{}]}, "mark": {"type": "rule", "color": "black", "strokeWidth": 1.3},
     "encoding": {"y": {"datum": 0, "type": "quantitative", "axis": {"orient": "left", "values": [-4.5,-1.5,1.5,4.5], "tickSize": -4, "labels": false, "domain": false, "title": null}}}},
    {"data": {"values": [{}]}, "mark": {"type": "rule", "color": "black", "strokeWidth": 1.3},
     "encoding": {"x": {"datum": 0, "type": "quantitative", "axis": {"orient": "bottom", "values": [-3,-1,1,3], "tickSize": -4, "labels": false, "domain": false, "title": null}}}}
   ]}
]}
]
}
